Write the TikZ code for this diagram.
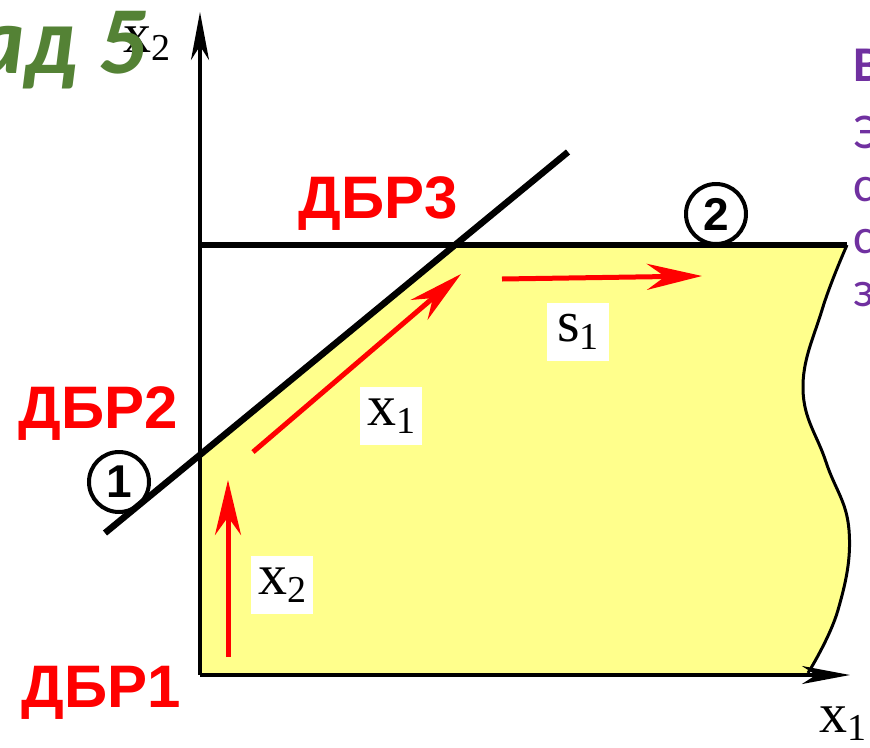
\documentclass[tikz,border=0pt]{standalone}
\usepackage{fontspec}
\setmainfont{Liberation Serif}
\newfontfamily\dbrfont{Liberation Sans}
\newfontfamily\slidefont{Carlito}
\usepackage{xcolor}
\usetikzlibrary{arrows.meta}
\definecolor{Region}{HTML}{FFFF8C}
\definecolor{Leaf}{HTML}{548235}
\definecolor{Plum}{HTML}{7030A0}
\newcommand\idx[1]{\raisebox{-8pt}{\fontsize{38}{38}\selectfont #1}}

\begin{document}
\begin{tikzpicture}[x=1pt,y=-1pt,
  axisline/.style={line width=3.5pt,-{Stealth[length=48pt,width=18pt,inset=14pt]}},
  bound/.style={line width=6.5pt},
  move/.style={red,line width=5pt,-{Stealth[length=55pt,width=26pt,inset=18pt]}},
  varlabel/.style={fill=white,inner sep=0pt,minimum width=62pt,minimum height=58pt,font=\fontsize{58}{58}\selectfont},
  axislabel/.style={inner sep=0pt,font=\fontsize{56}{56}\selectfont},
  dbr/.style={red,inner sep=0pt,anchor=base,font=\dbrfont\bfseries\fontsize{60}{60}\selectfont},
  vertex/.style={circle,draw,line width=4pt,minimum size=60pt,inner sep=0pt,font=\dbrfont\bfseries\fontsize{46}{46}\selectfont},
  note/.style={text=Plum,inner sep=0pt,anchor=base west,font=\slidefont\fontsize{50}{50}\selectfont}]
\useasboundingbox (0,0) rectangle (870,747);
\clip (0,0) rectangle (870,747);

\coordinate (O) at (200,675);
\coordinate (ytip) at (200,12);
\coordinate (xtip) at (850,675);
\coordinate (A) at (200,455);
\coordinate (B) at (455,245);
\coordinate (C) at (847,245);
\coordinate (D) at (808,673);
\coordinate (L) at (200,245);
\coordinate (P) at (105,533);
\coordinate (Q) at (568,152);

\fill[Region] (O) -- (A) -- (B) -- (C)
  -- plot[smooth,tension=0.7] coordinates {(847,245) (822,310) (803,390) (826,462) (849,530) (838,610) (808,673)}
  -- cycle;
\draw[line width=3pt] plot[smooth,tension=0.7] coordinates {(847,245) (822,310) (803,390) (826,462) (849,530) (838,610) (808,673)};

\draw[axisline] (O) -- (ytip);
\draw[axisline] (O) -- (xtip);
\draw[bound] (L) -- (C);
\draw[bound] (P) -- (Q);

\coordinate (m1s) at (228,657);
\coordinate (m1e) at (228,480);
\coordinate (m2s) at (253,452);
\coordinate (m2e) at (461,274);
\coordinate (m3s) at (502,279);
\coordinate (m3e) at (702,276);
\draw[move] (m1s) -- (m1e);
\draw[move] (m2s) -- (m2e);
\draw[move] (m3s) -- (m3e);

\node[varlabel] (lx2) at (282,585) {x\idx{2}};
\node[varlabel] (lx1) at (391,416) {x\idx{1}};
\node[varlabel] (ls1) at (578,332) {s\idx{1}};

\node[axislabel] (xname) at (843,724) {x\idx{1}};
\node[axislabel] (yname) at (147,44) {x\idx{2}};

\node[dbr] (dbr3) at (378,218) {ДБР3};
\node[dbr] (dbr2) at (98,428) {ДБР2};
\node[dbr] (dbr1) at (101,707) {ДБР1};

\node[vertex] (v1) at (119,482) {1};
\node[vertex] (v2) at (716,214) {2};

\node[anchor=base east,inner sep=0pt,text=Leaf,font=\slidefont\bfseries\itshape\fontsize{96}{96}\selectfont] (title) at (147,73) {ад 5};

\node[note,font=\slidefont\bfseries\fontsize{50}{50}\selectfont] (n1) at (853,81) {В};
\node[note] (n2) at (853,148) {Э};
\node[note] (n3) at (853,201) {с};
\node[note] (n4) at (853,253) {с};
\node[note] (n5) at (853,306) {з};
\end{tikzpicture}
\end{document}
